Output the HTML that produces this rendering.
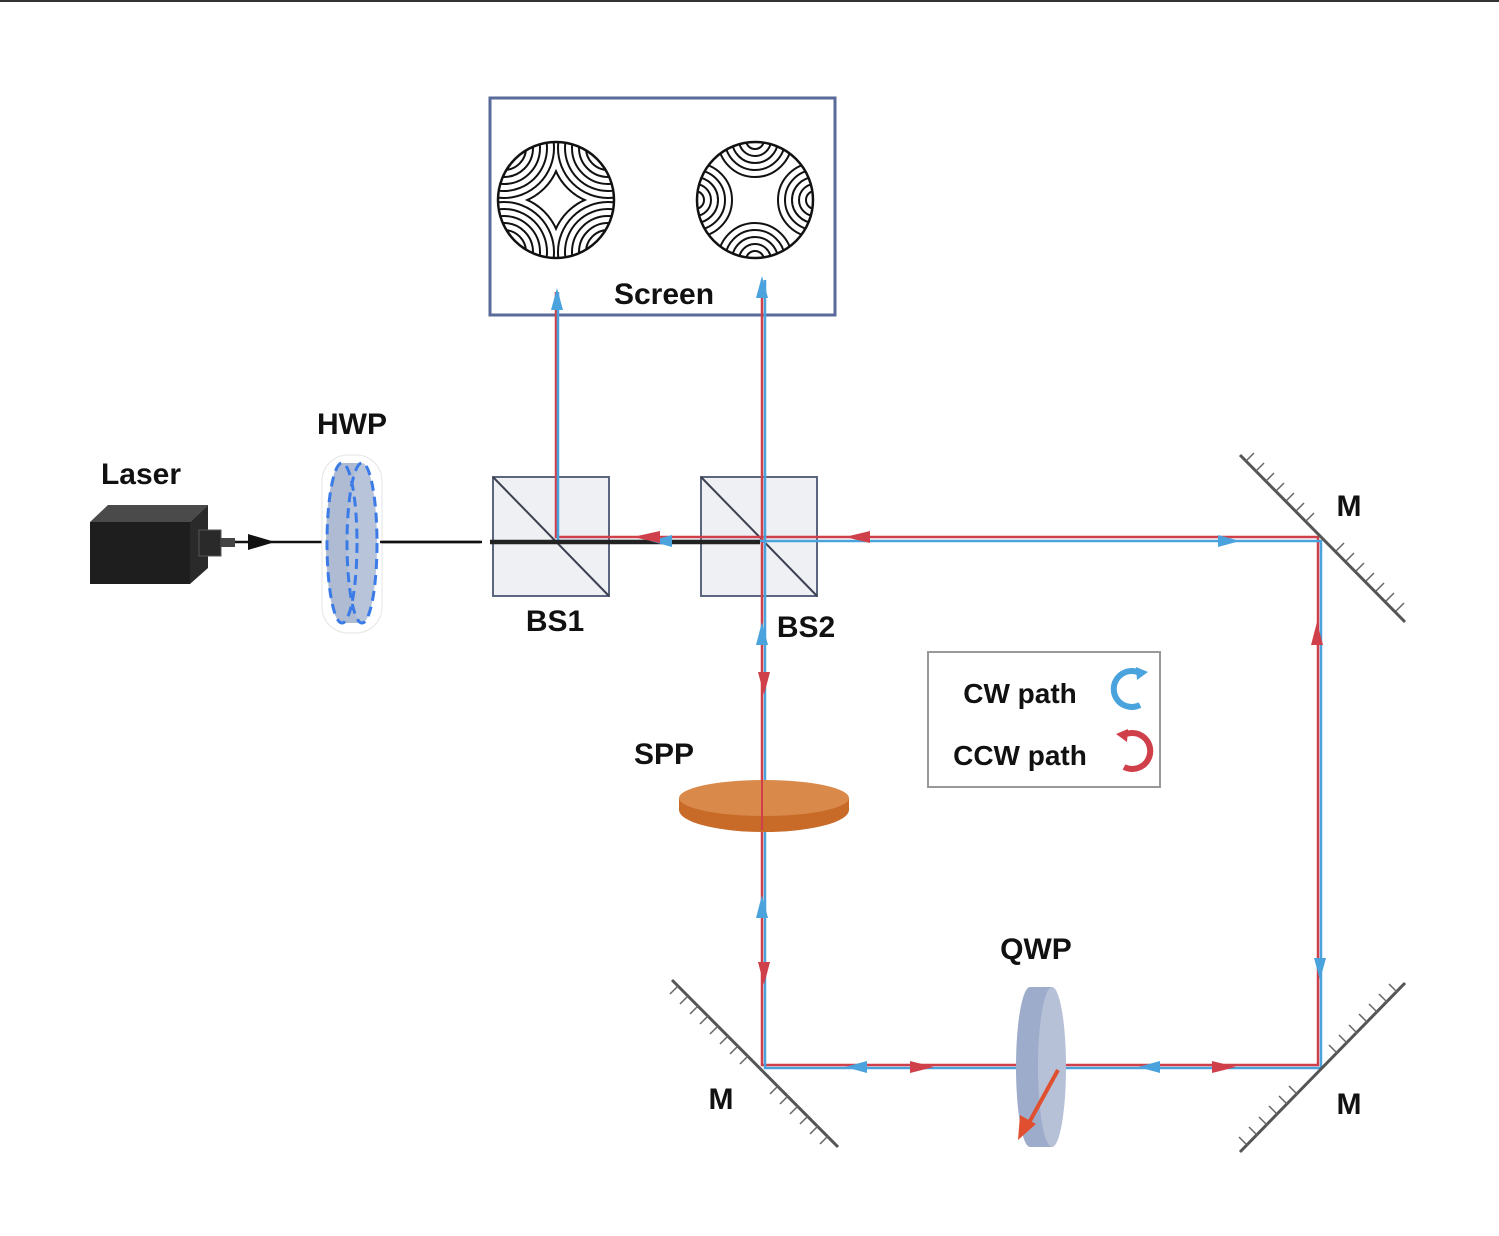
<!DOCTYPE html>
<html><head><meta charset="utf-8"><style>
html,body{margin:0;padding:0;background:#fff;}
svg{display:block;}
text{font-family:"Liberation Sans",sans-serif;font-weight:bold;fill:#111;}
</style></head><body>
<svg width="1499" height="1236" viewBox="0 0 1499 1236" xmlns="http://www.w3.org/2000/svg">
<defs>
<clipPath id="circ"><circle cx="0" cy="0" r="58"/></clipPath>
<clipPath id="q1"><rect x="0" y="-60" width="60" height="60"/></clipPath>
<clipPath id="q2"><polygon points="0,0 -60,-60 60,-60"/></clipPath>
<g id="lq" clip-path="url(#q1)" fill="none" stroke="#111" stroke-width="2">
<circle cx="52" cy="-52" r="8"/><circle cx="52" cy="-52" r="15"/><circle cx="52" cy="-52" r="22"/><circle cx="52" cy="-52" r="29"/><circle cx="52" cy="-52" r="36"/><circle cx="52" cy="-52" r="43"/><circle cx="52" cy="-52" r="50"/><circle cx="52" cy="-52" r="57"/>
</g>
<g id="rq" clip-path="url(#q2)" fill="none" stroke="#111" stroke-width="2">
<circle cx="0" cy="-60" r="9"/><circle cx="0" cy="-60" r="16"/><circle cx="0" cy="-60" r="23"/><circle cx="0" cy="-60" r="30"/><circle cx="0" cy="-60" r="37"/>
</g>
</defs>
<line x1="0" y1="1" x2="1499" y2="1" stroke="#333" stroke-width="2"/>

<rect x="490" y="98" width="345" height="217" fill="#fff" stroke="#5a6a9a" stroke-width="3"/>
<g transform="translate(556,200)"><g clip-path="url(#circ)">
<use href="#lq"/><use href="#lq" transform="rotate(90)"/><use href="#lq" transform="rotate(180)"/><use href="#lq" transform="rotate(270)"/>
</g><circle r="58" fill="none" stroke="#111" stroke-width="2.5"/></g>
<g transform="translate(755,200)"><g clip-path="url(#circ)">
<use href="#rq"/><use href="#rq" transform="rotate(90)"/><use href="#rq" transform="rotate(180)"/><use href="#rq" transform="rotate(270)"/>
</g><circle r="58" fill="none" stroke="#111" stroke-width="2.5"/></g>
<text x="664" y="304" font-size="30" text-anchor="middle">Screen</text>

<rect x="493" y="477" width="116" height="119" fill="#eef0f4" stroke="#5c6680" stroke-width="2"/>
<line x1="493" y1="477" x2="609" y2="596" stroke="#3c4050" stroke-width="2"/>
<rect x="701" y="477" width="116" height="119" fill="#eef0f4" stroke="#5c6680" stroke-width="2"/>
<line x1="701" y1="477" x2="817" y2="596" stroke="#3c4050" stroke-width="2"/>

<g fill="none" stroke-width="2.5">
<path d="M556 292 V537 H1318 V1065 H762 V280" stroke="#d0404a"/>
<path d="M558 292 V541 H1321 V1068 H765 V280" stroke="#4aa3dc"/>
</g>
<line x1="230" y1="542" x2="480" y2="542" stroke="#111" stroke-width="2.5"/>
<line x1="490" y1="542" x2="760" y2="542" stroke="#222" stroke-width="4.5"/>

<g fill="#4aa3dc">
<polygon points="557,288 551,310 563,310"/>
<polygon points="762,276 756,298 768,298"/>
<polygon points="762,622 756,645 768,645"/>
<polygon points="762,895 756,918 768,918"/>
<polygon points="650,541 672,535 672,547"/>
<polygon points="1240,541 1218,535 1218,547"/>
<polygon points="1320,980 1314,958 1326,958"/>
<polygon points="845,1067 867,1061 867,1073"/>
<polygon points="1138,1067 1160,1061 1160,1073"/>
</g>
<g fill="#d0404a">
<polygon points="633,537 660,531 660,543"/>
<polygon points="845,537 870,531 870,543"/>
<polygon points="1317,622 1311,645 1323,645"/>
<polygon points="764,695 758,672 770,672"/>
<polygon points="764,985 758,962 770,962"/>
<polygon points="934,1067 910,1061 910,1073"/>
<polygon points="1236,1067 1212,1061 1212,1073"/>
</g>

<polygon points="90,522 108,505 208,505 190,522" fill="#4a4a4a"/>
<polygon points="190,522 208,505 208,568 190,584" fill="#2a2a2a"/>
<rect x="90" y="522" width="100" height="62" fill="#1e1e1e"/>
<rect x="199" y="530" width="22" height="26" fill="#2a2a2a" stroke="#555"/>
<rect x="221" y="538" width="14" height="9" fill="#444"/>
<polygon points="248,534 275,542 248,550" fill="#111"/>

<rect x="322" y="455" width="60" height="178" rx="26" fill="#fff" stroke="#e5e5e5"/>
<ellipse cx="342" cy="543" rx="16" ry="80" fill="#aebbd2"/>
<rect x="342" y="463" width="20" height="160" fill="#aebbd2"/>
<ellipse cx="362" cy="543" rx="15" ry="80" fill="#b8c4da" stroke="#3a7be8" stroke-width="3" stroke-dasharray="10 6"/>
<ellipse cx="342" cy="543" rx="15" ry="80" fill="none" stroke="#3a7be8" stroke-width="3" stroke-dasharray="10 6"/>
<line x1="380" y1="542" x2="482" y2="542" stroke="#111" stroke-width="2.5"/>

<g stroke="#555" stroke-width="3">
<line x1="1240" y1="455" x2="1405" y2="622"/>
<line x1="672" y1="980" x2="838" y2="1147"/>
<line x1="1240" y1="1152" x2="1405" y2="983"/>
</g>
<g stroke="#666" stroke-width="1.5">
<path d="M1246 461 l8 -8 M1256 471 l8 -8 M1266 481 l8 -8 M1276 491 l8 -8 M1286 501 l8 -8 M1296 511 l8 -8 M1306 521 l8 -8 M1336 551 l8 -8 M1346 561 l8 -8 M1356 571 l8 -8 M1366 581 l8 -8 M1376 591 l8 -8 M1386 601 l8 -8 M1396 611 l8 -8"/>
<path d="M678 986 l-8 8 M688 996 l-8 8 M698 1006 l-8 8 M708 1016 l-8 8 M718 1026 l-8 8 M728 1036 l-8 8 M738 1046 l-8 8 M748 1056 l-8 8 M778 1086 l-8 8 M788 1096 l-8 8 M798 1106 l-8 8 M808 1116 l-8 8 M818 1126 l-8 8 M828 1136 l-8 8"/>
<path d="M1247 1145 l-8 -8 M1257 1135 l-8 -8 M1267 1125 l-8 -8 M1277 1114 l-8 -8 M1287 1104 l-8 -8 M1297 1094 l-8 -8 M1337 1053 l-8 -8 M1347 1043 l-8 -8 M1357 1033 l-8 -8 M1367 1022 l-8 -8 M1377 1012 l-8 -8 M1387 1002 l-8 -8 M1397 992 l-8 -8"/>
</g>

<ellipse cx="764" cy="810" rx="85" ry="22" fill="#c86a28"/>
<rect x="679" y="798" width="170" height="12" fill="#c86a28"/>
<ellipse cx="764" cy="798" rx="85" ry="18" fill="#d98a4a"/>
<line x1="762" y1="780" x2="762" y2="830" stroke="#d0404a" stroke-width="2"/>

<ellipse cx="1030" cy="1067" rx="14" ry="80" fill="#9eaccb"/>
<rect x="1030" y="987" width="22" height="160" fill="#9eaccb"/>
<ellipse cx="1052" cy="1067" rx="14" ry="80" fill="#b6c1d8"/>
<line x1="1058" y1="1070" x2="1025" y2="1130" stroke="#e05030" stroke-width="4"/>
<polygon points="1018,1140 1020,1115 1036,1124" fill="#e05030"/>

<rect x="928" y="652" width="232" height="135" fill="#fff" stroke="#999" stroke-width="2"/>
<text x="1020" y="703" font-size="28" text-anchor="middle">CW path</text>
<text x="1020" y="765" font-size="28" text-anchor="middle">CCW path</text>
<path d="M1140 673 A18 18 0 1 0 1140 705" fill="none" stroke="#4aa3dc" stroke-width="6"/>
<polygon points="1136,667 1148,672 1137,680" fill="#4aa3dc"/>
<path d="M1124 735 A18 18 0 1 1 1124 767" fill="none" stroke="#d0404a" stroke-width="6"/>
<polygon points="1128,729 1116,734 1127,742" fill="#d0404a"/>

<g font-size="30">
<text x="141" y="484" text-anchor="middle">Laser</text>
<text x="352" y="434" text-anchor="middle">HWP</text>
<text x="555" y="631" text-anchor="middle">BS1</text>
<text x="806" y="637" text-anchor="middle">BS2</text>
<text x="1349" y="516" text-anchor="middle">M</text>
<text x="664" y="764" text-anchor="middle">SPP</text>
<text x="1036" y="959" text-anchor="middle">QWP</text>
<text x="721" y="1109" text-anchor="middle">M</text>
<text x="1349" y="1114" text-anchor="middle">M</text>
</g>
</svg>
</body></html>
